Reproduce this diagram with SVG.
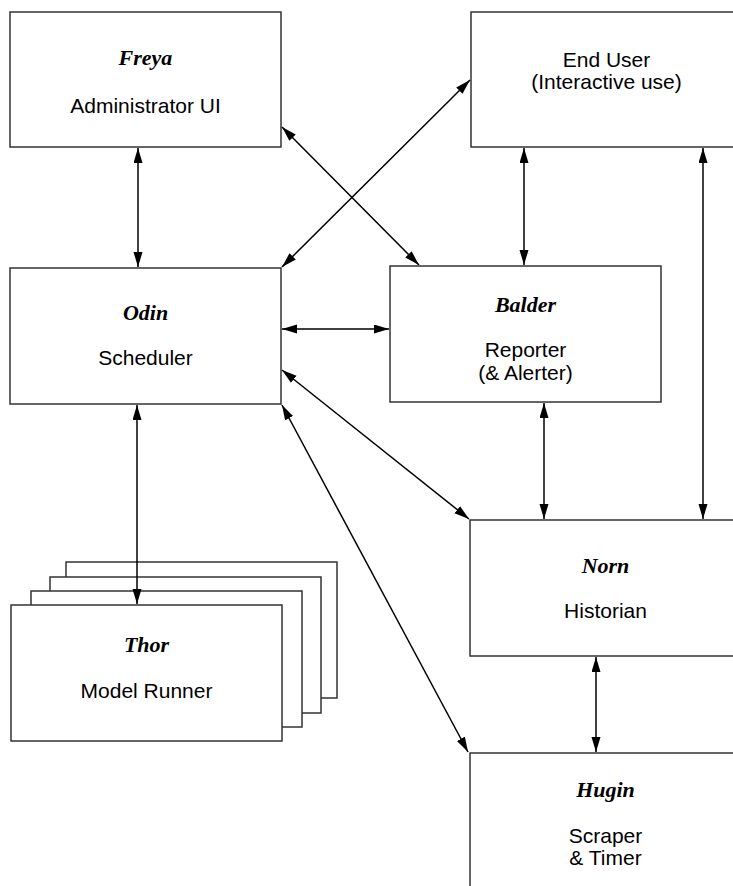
<svg xmlns="http://www.w3.org/2000/svg" width="733" height="886" viewBox="0 0 733 886">
  <style>
    .box { fill: #fff; stroke: #333; stroke-width: 1.5; }
    .name { font-family: "Liberation Serif", "Times New Roman", serif; font-style: italic; font-weight: bold; font-size: 22px; text-anchor: middle; fill: #000; }
    .sub { font-family: "Liberation Sans", Arial, sans-serif; font-size: 21px; text-anchor: middle; fill: #000; }
    .conn { stroke: #000; stroke-width: 1.5; fill: none; marker-start: url(#ah); marker-end: url(#ah); }
  </style>
  <defs>
    <marker id="ah" markerUnits="userSpaceOnUse" markerWidth="16" markerHeight="10" refX="15" refY="4.5" orient="auto-start-reverse">
      <path d="M0,0 L15,4.5 L0,9 z" fill="#000"/>
    </marker>
  </defs>
  <rect width="733" height="886" fill="#fff"/>

  <g id="freya">
    <rect class="box" x="10" y="12" width="271" height="135"/>
    <text class="name" x="145.5" y="65">Freya</text>
    <text class="sub" x="145.5" y="113">Administrator UI</text>
  </g>
  <g id="enduser">
    <rect class="box" x="471" y="12" width="271" height="135"/>
    <text class="sub" x="606.5" y="67">End User</text>
    <text class="sub" x="606.5" y="89">(Interactive use)</text>
  </g>
  <g id="odin">
    <rect class="box" x="10" y="268" width="271" height="136"/>
    <text class="name" x="145.5" y="320">Odin</text>
    <text class="sub" x="145.5" y="365">Scheduler</text>
  </g>
  <g id="balder">
    <rect class="box" x="390" y="266" width="271" height="136"/>
    <text class="name" x="525.5" y="312">Balder</text>
    <text class="sub" x="525.5" y="357">Reporter</text>
    <text class="sub" x="525.5" y="380">(&amp; Alerter)</text>
  </g>
  <g id="thor">
    <rect class="box" x="66" y="562" width="271" height="136"/>
    <rect class="box" x="50" y="577" width="271" height="136"/>
    <rect class="box" x="31" y="591" width="271" height="136"/>
    <rect class="box" x="11" y="605" width="271" height="136"/>
    <text class="name" x="146.5" y="652">Thor</text>
    <text class="sub" x="146.5" y="698">Model Runner</text>
  </g>
  <g id="norn">
    <rect class="box" x="470" y="520" width="271" height="136"/>
    <text class="name" x="605.5" y="573">Norn</text>
    <text class="sub" x="605.5" y="618">Historian</text>
  </g>
  <g id="hugin">
    <rect class="box" x="470" y="753" width="271" height="140"/>
    <text class="name" x="605.5" y="797">Hugin</text>
    <text class="sub" x="605.5" y="843">Scraper</text>
    <text class="sub" x="605.5" y="865">&amp; Timer</text>
  </g>

  <g id="connectors">
    <line class="conn" x1="138" y1="148" x2="138" y2="267"/>
    <line class="conn" x1="282" y1="127" x2="419" y2="265"/>
    <line class="conn" x1="282" y1="267" x2="470" y2="80"/>
    <line class="conn" x1="524" y1="148" x2="524" y2="265"/>
    <line class="conn" x1="703" y1="148" x2="703" y2="519"/>
    <line class="conn" x1="282" y1="329" x2="389" y2="329"/>
    <line class="conn" x1="282" y1="370" x2="469" y2="519"/>
    <line class="conn" x1="282" y1="405" x2="468" y2="752"/>
    <line class="conn" x1="137" y1="405" x2="137" y2="604"/>
    <line class="conn" x1="544" y1="403" x2="544" y2="519"/>
    <line class="conn" x1="596" y1="657" x2="596" y2="752"/>
  </g>
</svg>
